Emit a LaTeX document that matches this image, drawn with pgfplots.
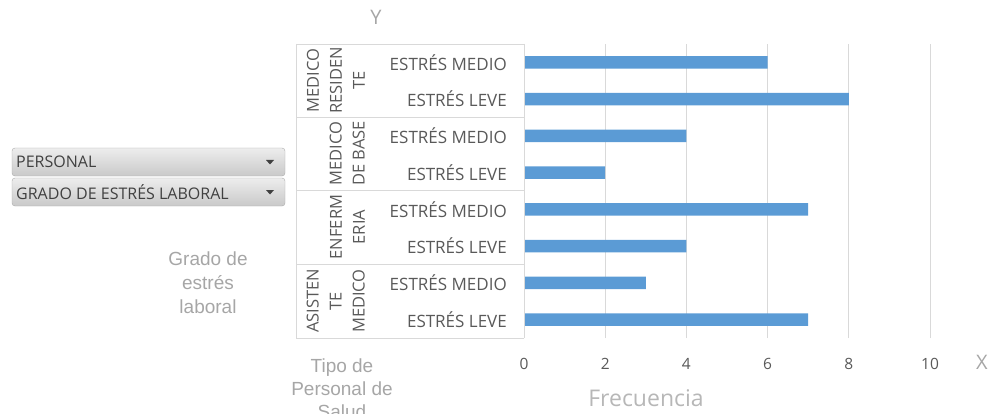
\documentclass[border=0pt]{standalone}
\usepackage{pgfplots}
\pgfplotsset{compat=1.18}
\usepackage{fontspec}
\setmainfont{Open Sans}
\newfontfamily\arialf{Liberation Sans}
\definecolor{barblue}{HTML}{5B9BD5}
\definecolor{gridgray}{HTML}{D9D9D9}
\definecolor{labgray}{HTML}{595959}
\definecolor{titgray}{HTML}{A6A6A6}
\definecolor{btntop}{HTML}{EDEDED}
\definecolor{btnbot}{HTML}{C9C9C9}
\begin{document}
\begin{tikzpicture}[x=1pt,y=1pt]
\useasboundingbox (0,0) rectangle (990,413);
\begin{scope}
\clip (0,0) rectangle (990,413);
\begin{axis}[
  at={(524pt,75pt)}, anchor=south west,
  scale only axis, width=406pt, height=294pt,
  xmin=0, xmax=10, ymin=-0.5, ymax=7.5,
  xtick={0,2,4,6,8,10},
  ytick={0,1,2,3,4,5,6,7},
  yticklabels={ESTRÉS LEVE,ESTRÉS MEDIO,ESTRÉS LEVE,ESTRÉS MEDIO,ESTRÉS LEVE,ESTRÉS MEDIO,ESTRÉS LEVE,ESTRÉS MEDIO},
  axis line style={draw=none},
  major tick length=0pt,
  xmajorgrids, grid style={draw=gridgray, line width=0.8pt},
  xticklabel style={font=\fontsize{15.5}{18}\selectfont, text=labgray, anchor=center, yshift=-26pt, inner sep=0pt},
  yticklabel style={font=\fontsize{17}{20}\selectfont, text=labgray, anchor=east, xshift=-17pt, inner sep=0pt},
  /pgf/number format/assume math mode=true,
  clip=false,
]
\addplot[xbar, bar width=12.5pt, fill=barblue, draw=none]
  coordinates {(7,0) (3,1) (4,2) (7,3) (2,4) (4,5) (8,6) (6,7)};
\end{axis}
% pivot table lines
\foreach \yy in {369,296,223,149,75} {\draw[gridgray, line width=0.8pt] (296,\yy) -- (524,\yy);}
\draw[gridgray, line width=0.8pt] (296,369) -- (296,75);
\draw[gridgray, line width=0.8pt] (524,369) -- (524,75);
% group labels
\begin{scope}[every node/.style={rotate=90, anchor=south, align=center, inner sep=0pt, text=labgray, font=\fontsize{16.5}{23}\selectfont}]
\node at (365,332.5) {MEDICO\\RESIDEN\\TE};
\node at (365,259.5) {MEDICO\\DE BASE};
\node at (365,186) {ENFERM\\ERIA};
\node at (365,112) {ASISTEN\\TE\\MEDICO};
\end{scope}
% buttons
\shade[top color=btntop, bottom color=btnbot, draw=btnbot!85!black, rounded corners=3pt] (12,237) rectangle (285,265);
\shade[top color=btntop, bottom color=btnbot, draw=btnbot!85!black, rounded corners=3pt] (12,207) rectangle (285,235);
\node[anchor=west, inner sep=0pt, text=black!75, font=\fontsize{16}{18}\selectfont] at (16,251) {PERSONAL};
\node[anchor=west, inner sep=0pt, text=black!75, font=\fontsize{16}{18}\selectfont] at (16,221) {GRADO DE ESTRÉS LABORAL};
\fill[black!75] (266,253) -- (274,253) -- (270,248.5) -- cycle;
\fill[black!75] (266,223) -- (274,223) -- (270,218.5) -- cycle;
% titles
\node[text=titgray, font=\fontsize{20}{24}\selectfont] at (376,396) {Y};
\node[text=titgray, font=\fontsize{20}{24}\selectfont] at (982,51) {X};
\node[text=titgray, align=center, font=\arialf\fontsize{19}{24}\selectfont] at (208,130) {Grado de\\estrés\\laboral};
\node[text=titgray, align=center, font=\arialf\fontsize{19}{23}\selectfont] at (342,24) {Tipo de\\Personal de\\Salud};
\node[text=titgray!110!black, font=\fontsize{23}{26}\selectfont] at (646,15) {Frecuencia};
\end{scope}
\end{tikzpicture}
\end{document}
